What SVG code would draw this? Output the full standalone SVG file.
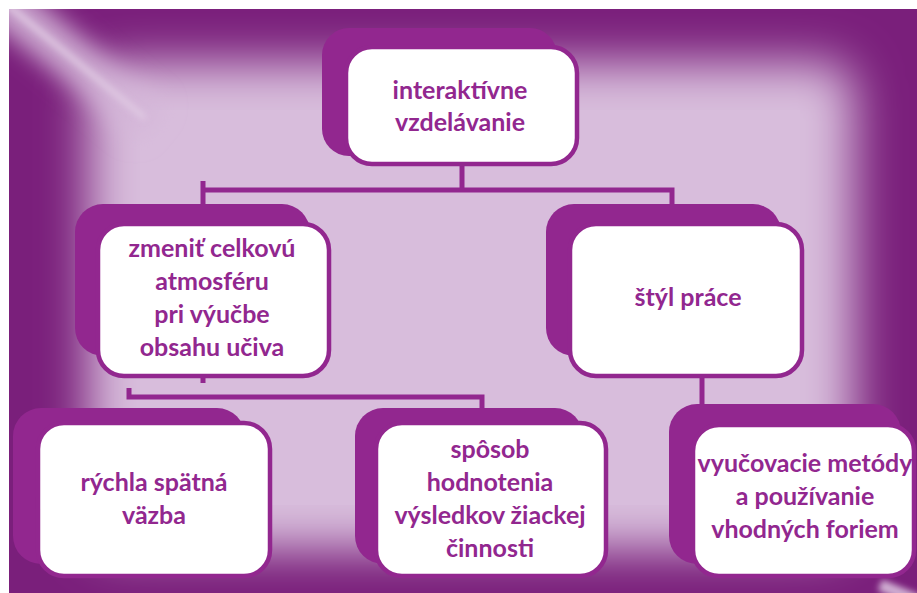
<svg xmlns="http://www.w3.org/2000/svg" width="917" height="593" viewBox="0 0 917 593">
<defs>
<style>
.sh{fill:#92278f}
.bx{fill:#ffffff;stroke:#92278f;stroke-width:4.5}
.t{font-family:Lato,"Liberation Sans",sans-serif;font-weight:bold;font-size:25px;fill:#92278f;text-anchor:middle}
.cn{fill:none;stroke:#92278f;stroke-width:5}
</style>
<filter id="glow" x="-30%" y="-30%" width="160%" height="160%"><feGaussianBlur stdDeviation="24"/></filter>
<filter id="blur" x="-50%" y="-50%" width="200%" height="200%"><feGaussianBlur stdDeviation="12"/></filter>
<filter id="blur2" x="-50%" y="-50%" width="200%" height="200%"><feGaussianBlur stdDeviation="3"/></filter>
<clipPath id="fclip"><rect x="9" y="9" width="908" height="584"/></clipPath>
</defs>
<rect x="0" y="0" width="917" height="593" fill="#ffffff"/>
<g id="frame" clip-path="url(#fclip)">
<rect x="9" y="9" width="908" height="584" fill="#7a1f7b"/>
<rect x="88" y="62" width="766" height="488" rx="30" fill="#d8bddc" filter="url(#glow)"/>
<rect x="140" y="110" width="660" height="395" fill="#d8bddc"/>
<line x1="-5" y1="-5" x2="150" y2="122" stroke="#d4b6d8" stroke-width="44" stroke-opacity="0.9" filter="url(#blur)"/>
<line x1="5" y1="3" x2="145" y2="118" stroke="#e2cde5" stroke-width="6" stroke-opacity="0.8" filter="url(#blur2)"/>
<line x1="880" y1="585" x2="917" y2="600" stroke="#e6d3e8" stroke-width="12" stroke-opacity="0.8" filter="url(#blur2)"/>
</g>
<g id="connectors">
<path class="cn" d="M462,165 V190 M203,181 V205 M203,190 H672 V205"/>
<path class="cn" d="M203,367 V383" stroke-width="6"/>
<path class="cn" d="M129,388 V397 H482 V408"/>
<path class="cn" d="M702,376 V406"/>
</g>
<g id="n-top">
<rect class="sh" x="322" y="28" width="235" height="128" rx="27"/>
<rect class="bx" x="346" y="47" width="231" height="117" rx="26"/>
<text class="t" x="460" y="99">interaktívne</text>
<text class="t" x="460" y="131">vzdelávanie</text>
</g>
<g id="n-atmosfera">
<rect class="sh" x="75" y="204" width="235" height="152" rx="28"/>
<rect class="bx" x="98" y="224" width="231" height="152" rx="26"/>
<text class="t" x="212" y="257">zmeniť celkovú</text>
<text class="t" x="212" y="290">atmosféru</text>
<text class="t" x="212" y="323">pri výučbe</text>
<text class="t" x="212" y="356">obsahu učiva</text>
</g>
<g id="n-styl">
<rect class="sh" x="546" y="204" width="235" height="152" rx="28"/>
<rect class="bx" x="570" y="224" width="232" height="152" rx="26"/>
<text class="t" x="688" y="306">štýl práce</text>
</g>
<g id="n-vazba">
<rect class="sh" x="13" y="408" width="232" height="156" rx="28"/>
<rect class="bx" x="38" y="423" width="232" height="153" rx="26"/>
<text class="t" x="154" y="491">rýchla spätná</text>
<text class="t" x="154" y="524">väzba</text>
</g>
<g id="n-hodnotenie">
<rect class="sh" x="355" y="408" width="228" height="156" rx="28"/>
<rect class="bx" x="376" y="423" width="230" height="153" rx="26"/>
<text class="t" x="490" y="458">spôsob</text>
<text class="t" x="490" y="491">hodnotenia</text>
<text class="t" x="490" y="524">výsledkov žiackej</text>
<text class="t" x="490" y="557">činnosti</text>
</g>
<g id="n-metody">
<rect class="sh" x="669" y="404" width="232" height="160" rx="28"/>
<rect class="bx" x="693" y="425" width="221" height="151" rx="26"/>
<text class="t" x="805" y="472">vyučovacie metódy</text>
<text class="t" x="805" y="505">a používanie</text>
<text class="t" x="805" y="538">vhodných foriem</text>
</g>
</svg>
